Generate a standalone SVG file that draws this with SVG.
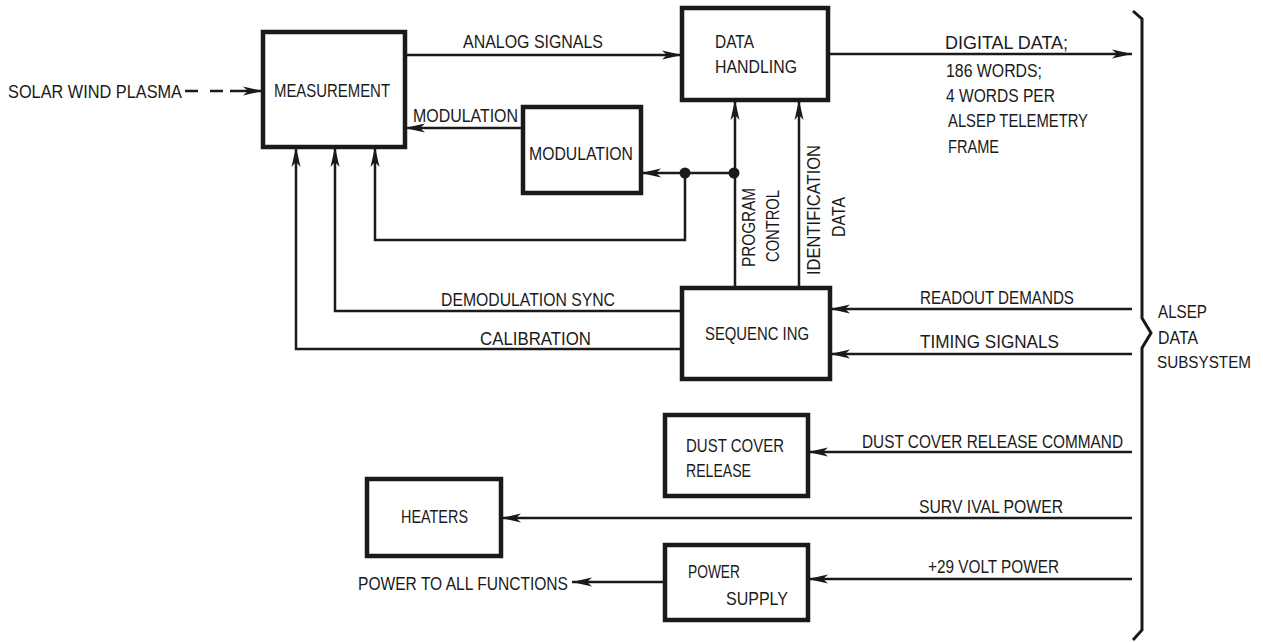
<svg xmlns="http://www.w3.org/2000/svg" width="1263" height="643" viewBox="0 0 1263 643">
<defs>
<marker id="arr" markerUnits="userSpaceOnUse" markerWidth="20" markerHeight="10" viewBox="0 0 20 10" refX="20" refY="5" orient="auto">
<path d="M0,0.5 L20,5 L0,9.5 L5,5 Z" fill="#1a1a1a"/>
</marker>
</defs>
<style>
text{font-family:"Liberation Sans Narrow","Liberation Sans",Arial,sans-serif;font-size:17.5px;fill:#1a1a1a;}
.box{fill:#fff;stroke:#1a1a1a;stroke-width:4.5;}
.ln{fill:none;stroke:#1a1a1a;stroke-width:2.5;}
.arr{marker-end:url(#arr);}
</style>
<rect width="1263" height="643" fill="#fff"/>

<g id="connectors">
<path class="ln" d="M185,91 H198 M210,91 H223"/>
<path class="ln arr" d="M230,91 H263"/>
<path class="ln arr" d="M405,55 H682"/>
<path class="ln arr" d="M828,54 H1132"/>
<path class="ln arr" d="M523,128 H405"/>
<path class="ln arr" d="M733,173 H641"/>
<path class="ln arr" d="M735,290 V100"/>
<path class="ln arr" d="M799,290 V100"/>
<path class="ln arr" d="M685,173 V240 H375 V147"/>
<path class="ln arr" d="M682,311 H335 V147"/>
<path class="ln arr" d="M682,349 H296 V147"/>
<path class="ln arr" d="M1132,309 H830"/>
<path class="ln arr" d="M1132,354 H830"/>
<path class="ln arr" d="M1132,452 H808"/>
<path class="ln arr" d="M1132,518 H501"/>
<path class="ln arr" d="M1132,579 H808"/>
<path class="ln arr" d="M663,582 H572"/>
<circle cx="685" cy="173" r="5.5" fill="#1a1a1a"/>
<circle cx="734" cy="173" r="5.5" fill="#1a1a1a"/>
<path d="M1133,11 L1142,19 V318 L1151,333 L1142,348 V630 L1133,640" fill="none" stroke="#1a1a1a" stroke-width="3"/>
</g>

<g id="labels">
<text x="8" y="98" textLength="174" lengthAdjust="spacingAndGlyphs">SOLAR WIND PLASMA</text>
<text x="463" y="48" textLength="140" lengthAdjust="spacingAndGlyphs">ANALOG SIGNALS</text>
<text x="413" y="122" textLength="105" lengthAdjust="spacingAndGlyphs">MODULATION</text>
<text x="945" y="49" textLength="123" lengthAdjust="spacingAndGlyphs">DIGITAL DATA;</text>
<text x="946" y="77" textLength="96" lengthAdjust="spacingAndGlyphs">186 WORDS;</text>
<text x="946" y="102" textLength="109" lengthAdjust="spacingAndGlyphs">4 WORDS PER</text>
<text x="948" y="127" textLength="140" lengthAdjust="spacingAndGlyphs">ALSEP TELEMETRY</text>
<text x="948" y="153" textLength="51" lengthAdjust="spacingAndGlyphs">FRAME</text>
<text transform="translate(755,267) rotate(-90)" textLength="79" lengthAdjust="spacingAndGlyphs">PROGRAM</text>
<text transform="translate(779,262) rotate(-90)" textLength="72" lengthAdjust="spacingAndGlyphs">CONTROL</text>
<text transform="translate(820,275) rotate(-90)" textLength="130" lengthAdjust="spacingAndGlyphs">IDENTIFICATION</text>
<text transform="translate(845,237) rotate(-90)" textLength="40" lengthAdjust="spacingAndGlyphs">DATA</text>
<text x="441" y="306" textLength="174" lengthAdjust="spacingAndGlyphs">DEMODULATION SYNC</text>
<text x="480" y="345" textLength="111" lengthAdjust="spacingAndGlyphs">CALIBRATION</text>
<text x="920" y="304" textLength="154" lengthAdjust="spacingAndGlyphs">READOUT DEMANDS</text>
<text x="920" y="348" textLength="139" lengthAdjust="spacingAndGlyphs">TIMING SIGNALS</text>
<text x="862" y="448" textLength="261" lengthAdjust="spacingAndGlyphs">DUST COVER RELEASE COMMAND</text>
<text x="919" y="513" textLength="144" lengthAdjust="spacingAndGlyphs">SURV IVAL POWER</text>
<text x="928" y="573" textLength="131" lengthAdjust="spacingAndGlyphs">+29 VOLT POWER</text>
<text x="358" y="590" textLength="210" lengthAdjust="spacingAndGlyphs">POWER TO ALL FUNCTIONS</text>
<text x="1158" y="318" textLength="49" lengthAdjust="spacingAndGlyphs">ALSEP</text>
<text x="1158" y="344" textLength="40" lengthAdjust="spacingAndGlyphs">DATA</text>
<text x="1157" y="368" style="font-size:16px" textLength="94" lengthAdjust="spacingAndGlyphs">SUBSYSTEM</text>
</g>

<g id="measurement">
<rect class="box" x="263" y="32" width="142" height="115"/>
<text x="274" y="97" textLength="116" lengthAdjust="spacingAndGlyphs">MEASUREMENT</text>
</g>
<g id="data-handling">
<rect class="box" x="682" y="8" width="146" height="92"/>
<text x="715" y="48" textLength="39" lengthAdjust="spacingAndGlyphs">DATA</text>
<text x="715" y="73" textLength="82" lengthAdjust="spacingAndGlyphs">HANDLING</text>
</g>
<g id="modulation">
<rect class="box" x="523" y="107" width="118" height="86"/>
<text x="529" y="160" textLength="104" lengthAdjust="spacingAndGlyphs">MODULATION</text>
</g>
<g id="sequencing">
<rect class="box" x="682" y="288" width="148" height="91"/>
<text x="705" y="340" textLength="104" lengthAdjust="spacingAndGlyphs">SEQUENC ING</text>
</g>
<g id="dust-cover-release">
<rect class="box" x="665" y="415" width="143" height="81"/>
<text x="686" y="452" textLength="98" lengthAdjust="spacingAndGlyphs">DUST COVER</text>
<text x="686" y="477" textLength="65" lengthAdjust="spacingAndGlyphs">RELEASE</text>
</g>
<g id="heaters">
<rect class="box" x="367" y="479" width="134" height="77"/>
<text x="401" y="523" textLength="67" lengthAdjust="spacingAndGlyphs">HEATERS</text>
</g>
<g id="power-supply">
<rect class="box" x="665" y="545" width="143" height="75"/>
<text x="688" y="578" textLength="52" lengthAdjust="spacingAndGlyphs">POWER</text>
<text x="726" y="605" textLength="62" lengthAdjust="spacingAndGlyphs">SUPPLY</text>
</g>
</svg>
